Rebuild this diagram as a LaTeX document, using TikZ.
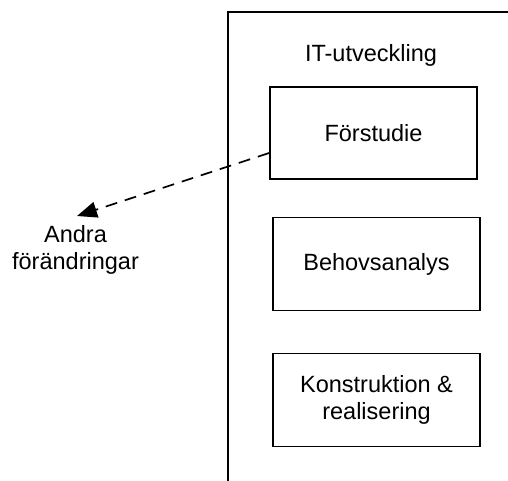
\documentclass[tikz,border=0pt]{standalone}
\usepackage{fontspec}
\setmainfont{Liberation Sans}
\usetikzlibrary{arrows.meta}
\begin{document}
\begin{tikzpicture}[x=1pt,y=-1pt,
  every node/.style={font=\fontsize{23.5}{26.5}\selectfont, align=center, inner sep=0pt},
  phase/.style={draw, line width=1.7pt, minimum width=207pt, minimum height=93pt},
  frameline/.style={line width=1.7pt},
  change/.style={line width=1.7pt, dash pattern=on 12pt off 8pt,
    -{Triangle[length=20pt,width=16pt]}}]
  \useasboundingbox (0,0) rectangle (508,481);

  % open frame of the development area
  \coordinate (ftr) at (508,12);
  \coordinate (ftl) at (228,12);
  \coordinate (fbl) at (228,481);
  \draw[frameline] (ftr) -- (ftl) -- (fbl);

  \node (title) at (371,55) {IT-utveckling};

  \node[phase, minimum height=92pt] (fs) at (373.5,133) {Förstudie};
  \node[phase] (ba) at (376.5,264) {Behovsanalys};
  \node[phase] (kr) at (376.5,400) {Konstruktion \&\\realisering};

  \node (andra) at (75.5,250) {Andra\\förändringar};
  \coordinate (tip) at (77,216);

  \draw[change] ([yshift=-20pt]fs.west) -- (tip);
\end{tikzpicture}
\end{document}
